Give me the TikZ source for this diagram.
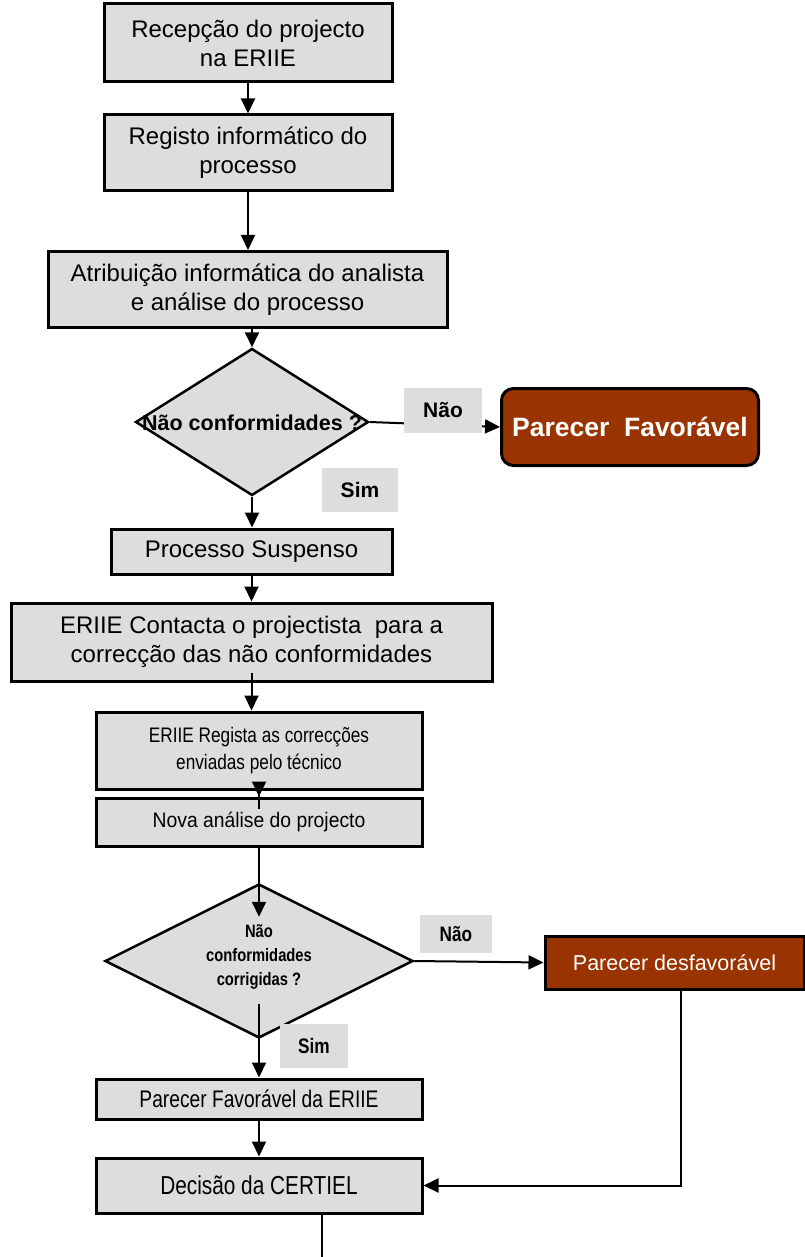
\documentclass[tikz,border=0pt]{standalone}
\usepackage{fontspec}
\setmainfont{Liberation Sans}
\newfontfamily\narrowfont[FakeStretch=0.82]{Liberation Sans}
\newfontfamily\semifont[FakeStretch=0.92]{Liberation Sans}
\newfontfamily\slimfont[FakeStretch=0.8]{Liberation Sans}
\usetikzlibrary{arrows.meta,shapes.geometric,positioning}
\definecolor{boxgray}{RGB}{221,221,221}
\definecolor{rust}{RGB}{153,51,0}

\begin{document}
\begin{tikzpicture}[x=1pt,y=-1pt,->,>={Triangle[length=15pt,width=14pt]},line width=2pt,
    stepbox/.style={rectangle, draw=black, fill=boxgray, line width=3pt, align=center,
                    font=\fontsize{24}{29}\selectfont},
    narrowbox/.style={stepbox, font=\narrowfont\fontsize{21}{27}\selectfont},
    choice/.style={diamond, draw=black, fill=boxgray, line width=2.5pt, inner sep=0pt}]
  \tikzstyle{answer}=[fill=boxgray, inner sep=0pt, font=\bfseries\fontsize{21}{24}\selectfont]
  \tikzstyle{verdict}=[rectangle, draw=black, fill=rust, text=white, line width=3pt]

  \useasboundingbox (0,0) rectangle (805,1257);

  \node[stepbox, minimum width=288pt, minimum height=78pt] (recep) at (248,43)
       {Recepção do projecto\\na ERIIE};
  \node[stepbox, minimum width=288pt, minimum height=76pt] (registo) at (248,153)
       {Registo informático do\\processo};
  \node[stepbox, minimum width=399pt, minimum height=76pt] (atrib) at (247.5,289.5)
       {Atribuição informática do analista\\e análise do processo};
  \node[choice, minimum width=233pt, minimum height=147pt] (nc) at (252,422) {};
  \node[font=\bfseries\fontsize{21.5}{25}\selectfont, inner sep=0pt] (nctext) at (252,423)
       {Não conformidades ?};
  \node[verdict, rounded corners=12pt, minimum width=257pt, minimum height=77pt,
        font=\bfseries\fontsize{26.5}{30}\selectfont] (fav) at (630,427) {Parecer\ \ Favorável};
  \node[stepbox, minimum width=281pt, minimum height=45pt] (susp) at (251.5,551.5)
       {Processo Suspenso};
  \node[stepbox, minimum width=481pt, minimum height=78pt] (contacta) at (251.5,642)
       {ERIIE Contacta o projectista\ \ para a\\correcção das não conformidades};
  \node[narrowbox, minimum width=326pt, minimum height=77pt] (regista) at (259,750.5)
       {ERIIE Regista as correcções\\enviadas pelo técnico};
  \node[narrowbox, minimum width=326pt, minimum height=48pt,
        font=\semifont\fontsize{21}{25}\selectfont] (nova) at (259,822)
       {Nova análise do projecto};
  \node[choice, minimum width=308pt, minimum height=154pt] (ncc) at (259,961) {};
  \node[font=\narrowfont\bfseries\fontsize{18}{24}\selectfont, align=center, inner sep=0pt]
       (ncctext) at (259,957) {Não\\conformidades\\corrigidas ?};
  \node[verdict, minimum width=259pt, minimum height=53pt,
        font=\fontsize{21.5}{25}\selectfont] (desf) at (674.5,962.5) {Parecer desfavorável};
  \node[narrowbox, minimum width=326pt, minimum height=40pt,
        font=\slimfont\fontsize{24}{28}\selectfont] (favE) at (259,1099)
       {Parecer Favorável da ERIIE};
  \node[narrowbox, minimum width=326pt, minimum height=55pt,
        font=\slimfont\fontsize{26}{30}\selectfont] (decisao) at (259,1185.5)
       {Decisão da CERTIEL};
  \coordinate (exit) at (322,1257);

  % connectors
  \draw (recep.south) -- (registo.north);
  \draw (registo.south) -- (registo.south |- atrib.north);
  \draw (nc.north |- atrib.south) -- (nc.north);
  \draw (nc.east) -- (fav.west);
  \draw (nc.south) -- (nc.south |- susp.north);
  \draw (susp.south) -- (susp.south |- contacta.north);
  \draw[shorten <=-10pt] (contacta.south) -- (contacta.south |- regista.north);
  \draw[shorten <=-18pt] (regista.south) -- (nova.north);
  \draw[shorten >=-34pt] (nova.south) -- (ncc.north);
  \draw (ncc.east) -- (desf.west);
  \draw[shorten <=-35pt] (ncc.south) -- (favE.north);
  \draw (favE.south) -- (decisao.north);
  \draw ([xshift=6pt]desf.south) |- (decisao.east);
  \draw[-] (exit |- decisao.south) -- (exit);

  % answers
  \node[answer, minimum width=78pt, minimum height=45pt] (no1) at (443,410.5) {Não};
  \node[answer, minimum width=76pt, minimum height=44pt] (yes1) at (360,490) {Sim};
  \node[answer, minimum width=72pt, minimum height=38pt, font=\narrowfont\bfseries\fontsize{21}{24}\selectfont]
       (no2) at (456,934) {Não};
  \node[answer, minimum width=68pt, minimum height=44pt, font=\narrowfont\bfseries\fontsize{21}{24}\selectfont]
       (yes2) at (314,1046) {Sim};
\end{tikzpicture}
\end{document}
